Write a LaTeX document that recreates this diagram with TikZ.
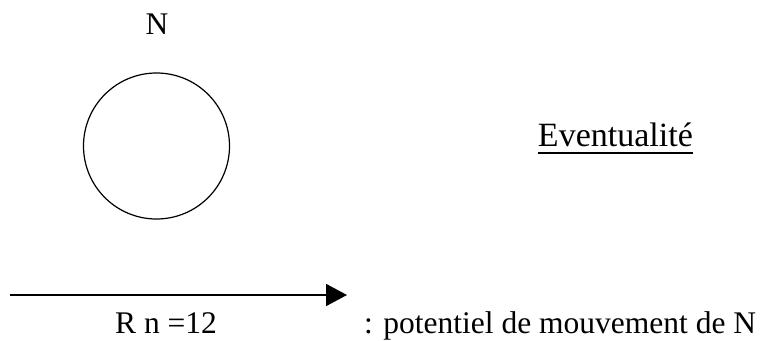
\documentclass[tikz,border=0pt]{standalone}
\usepackage{fontspec}
\setmainfont{Liberation Serif}
\usetikzlibrary{arrows.meta}
\tikzset{
  lbl/.style={inner sep=0pt, font=\fontsize{31.5}{36}\selectfont},
  title/.style={inner sep=0pt, font=\fontsize{34}{40}\selectfont},
  movearrow/.style={line width=1.8pt, -{Triangle[length=21pt, width=22pt]}}
}
\begin{document}
\begin{tikzpicture}[x=1pt, y=-1pt]
  \useasboundingbox (0,0) rectangle (760,340);
  % the entity N
  \node[lbl, anchor=base] (n) at (157,34) {N};
  \node[draw, circle, line width=1.2pt, minimum size=146pt, inner sep=0pt] (c) at (156.5,146) {};
  % title, underlined
  \node[title, anchor=base east] (ev) at (693,146) {Eventualité};
  \draw[line width=1.4pt] ([yshift=-7pt]ev.base west) -- ([yshift=-7pt]ev.base east);
  % movement arrow and legend
  \coordinate (a0) at (10,295);
  \coordinate (a1) at (347,295);
  \draw[movearrow] (a0) -- (a1);
  \node[lbl, anchor=base west] (r) at (115,333) {R n =12};
  \node[lbl, anchor=base west] (leg) at (364,333) {: potentiel de mouvement de N};
\end{tikzpicture}
\end{document}
